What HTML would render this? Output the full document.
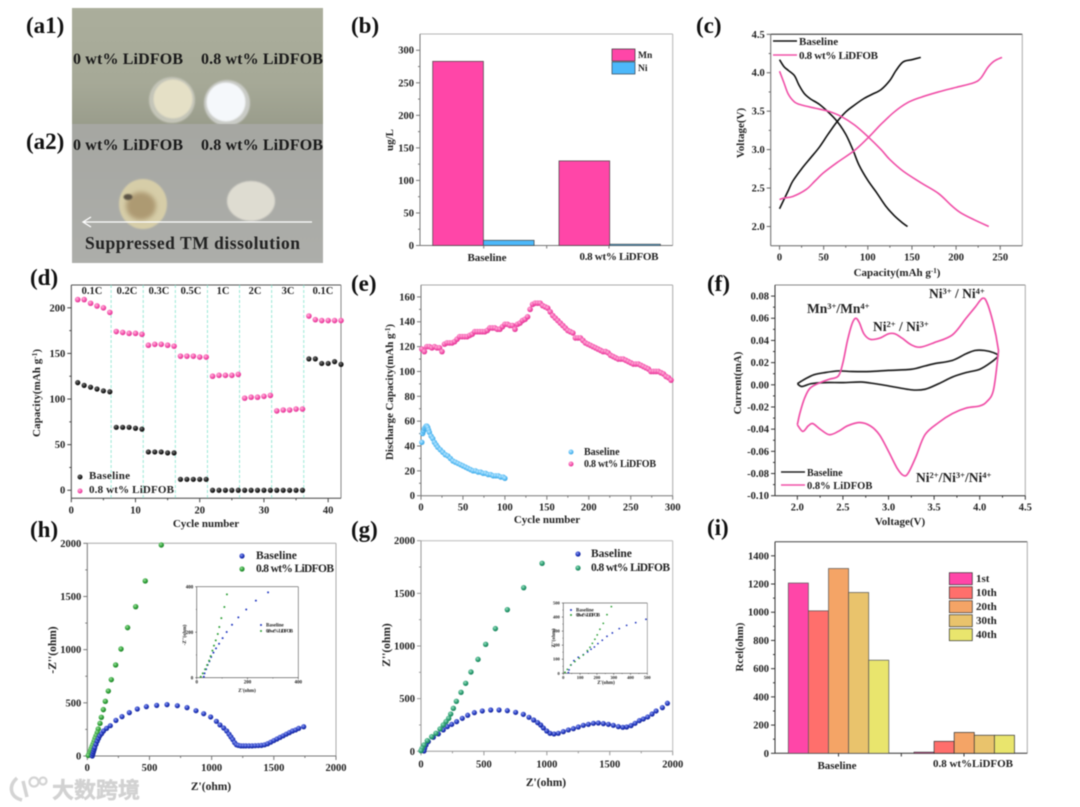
<!DOCTYPE html>
<html lang="en">
<head>
<meta charset="utf-8">
<title>LiDFOB electrolyte composite figure</title>
<style>
html,body{margin:0;padding:0;background:#fff;width:1080px;height:807px;overflow:hidden}
svg{display:block;filter:blur(0.6px)}
text{font-family:"Liberation Serif","Noto Serif CJK SC",serif;font-weight:bold;fill:#222}
.tag{font-size:23px;fill:#111}
.photo{font-size:16px;fill:#1a1a1a}
.title{font-size:11px;text-anchor:middle}
.leg{font-size:11px}
.ann{font-size:13.5px}
.sup{font-size:8.5px}
.rate{font-size:10.5px;text-anchor:middle}
.tiny{font-size:5px}
</style>
</head>
<body>
<svg id="figure" xmlns="http://www.w3.org/2000/svg" width="1080" height="807" viewBox="0 0 1080 807">
<defs>
<radialGradient id="gPink" cx="38%" cy="35%" r="70%"><stop offset="0" stop-color="#ffb6dc"/><stop offset="0.6" stop-color="#f552ac"/><stop offset="1" stop-color="#d92a8c"/></radialGradient>
<radialGradient id="gBlack" cx="38%" cy="35%" r="70%"><stop offset="0" stop-color="#777"/><stop offset="0.6" stop-color="#222"/><stop offset="1" stop-color="#000"/></radialGradient>
<radialGradient id="gBlue" cx="38%" cy="35%" r="70%"><stop offset="0" stop-color="#8d9cf0"/><stop offset="0.6" stop-color="#2238c0"/><stop offset="1" stop-color="#14228a"/></radialGradient>
<radialGradient id="gGreen" cx="38%" cy="35%" r="70%"><stop offset="0" stop-color="#9ae09a"/><stop offset="0.6" stop-color="#2fa038"/><stop offset="1" stop-color="#1b7a26"/></radialGradient>
<radialGradient id="gTeal" cx="38%" cy="35%" r="70%"><stop offset="0" stop-color="#98e0c0"/><stop offset="0.6" stop-color="#2a9c70"/><stop offset="1" stop-color="#167a55"/></radialGradient>
<radialGradient id="gSky" cx="38%" cy="35%" r="70%"><stop offset="0" stop-color="#c0e8ff"/><stop offset="0.6" stop-color="#58bdf5"/><stop offset="1" stop-color="#3aa0dd"/></radialGradient>
<linearGradient id="a1bg" x1="0" y1="0" x2="0" y2="1"><stop offset="0" stop-color="#abae9c"/><stop offset="0.65" stop-color="#a6a997"/><stop offset="1" stop-color="#9a9d8c"/></linearGradient>
<linearGradient id="a2bg" x1="0" y1="0" x2="0" y2="1"><stop offset="0" stop-color="#a6a7a2"/><stop offset="1" stop-color="#adaeaa"/></linearGradient>
<filter id="soft" x="-20%" y="-20%" width="140%" height="140%"><feGaussianBlur stdDeviation="0.7"/></filter>
<filter id="softer" x="-30%" y="-30%" width="160%" height="160%"><feGaussianBlur stdDeviation="2.5"/></filter>
</defs>
<rect width="1080" height="807" fill="#fff"/>

<g>
<rect x="72" y="8" width="251" height="116" fill="url(#a1bg)"/>
<circle cx="172" cy="100" r="23" fill="#c4c5b8" filter="url(#soft)"/>
<circle cx="173" cy="99" r="19.5" fill="#e5e0c6" filter="url(#soft)"/>
<circle cx="227" cy="103" r="23" fill="#c9cbc6" filter="url(#soft)"/>
<circle cx="226" cy="102" r="19.5" fill="#f5f8fb" filter="url(#soft)"/>
<text class="photo" x="73" y="64" textLength="110">0 wt% LiDFOB</text>
<text class="photo" x="201" y="64" textLength="122">0.8 wt% LiDFOB</text>
</g>
<g>
<rect x="72" y="124" width="251" height="139" fill="url(#a2bg)"/>
<ellipse cx="143" cy="204" rx="24" ry="25" fill="#d6cda8" filter="url(#soft)"/>
<ellipse cx="141" cy="206" rx="15" ry="14" fill="#ad9a72" filter="url(#softer)"/>
<ellipse cx="128" cy="197" rx="4.5" ry="3" fill="#5c5344" filter="url(#soft)"/>
<ellipse cx="251" cy="201" rx="24" ry="20" fill="#dedcd1" filter="url(#soft)"/>
<line x1="84" y1="222" x2="312" y2="222" stroke="#fff" stroke-width="1.3"/>
<path d="M91 217L83 222L91 227" fill="none" stroke="#fff" stroke-width="1.3"/>
<text class="photo" x="73" y="150" textLength="110">0 wt% LiDFOB</text>
<text class="photo" x="201" y="150" textLength="122">0.8 wt% LiDFOB</text>
<text x="85" y="249" style="font-size:17.5px" fill="#111" textLength="215">Suppressed TM dissolution</text>
</g>

<g>
<text class="tag" x="26" y="33">(a1)</text>
<text class="tag" x="26" y="149">(a2)</text>
<text class="tag" x="351" y="33">(b)</text>
<text class="tag" x="696" y="33">(c)</text>
<text class="tag" x="30" y="285">(d)</text>
<text class="tag" x="351" y="291">(e)</text>
<text class="tag" x="707" y="291">(f)</text>
<text class="tag" x="30" y="537">(h)</text>
<text class="tag" x="351" y="537">(g)</text>
<text class="tag" x="707" y="535">(i)</text>
</g>

<g id="plots"></g>

<g>
<text class="title" x="0" y="0" transform="translate(393 140) rotate(-90)">ug/L</text>
<rect x="612" y="49" width="23" height="12" fill="#ff46a8" stroke="#333" stroke-width=".7"/>
<rect x="612" y="62" width="23" height="12" fill="#4cb8fa" stroke="#345" stroke-width=".7"/>
<text x="638" y="58" style="font-size:9.5px">Mn</text>
<text x="638" y="71" style="font-size:9.5px">Ni</text>
<text class="title" x="487" y="261">Baseline</text>
<text class="title" x="619" y="260" textLength="79">0.8 wt% LiDFOB</text>
</g>

<g>
<text class="title" transform="translate(744 133) rotate(-90)">Voltage(V)</text>
<text class="title" x="897" y="276">Capacity(mAh g<tspan dy="-3" style="font-size:7px">-1</tspan><tspan dy="3">)</tspan></text>
<line x1="773" y1="41" x2="797" y2="41" stroke="#111" stroke-width="1.5"/>
<line x1="773" y1="55" x2="797" y2="55" stroke="#f050a8" stroke-width="1.5"/>
<text class="leg" x="799" y="45">Baseline</text>
<text class="leg" x="799" y="59" textLength="79">0.8 wt% LiDFOB</text>
</g>

<g>
<text class="title" transform="translate(40 393) rotate(-90)" textLength="88">Capacity(mAh g<tspan dy="-3" style="font-size:7px">-1</tspan><tspan dy="3">)</tspan></text>
<text class="title" x="206" y="527">Cycle number</text>
<text class="rate" x="92" y="294">0.1C</text>
<text class="rate" x="127" y="294">0.2C</text>
<text class="rate" x="159" y="294">0.3C</text>
<text class="rate" x="191" y="294">0.5C</text>
<text class="rate" x="223" y="294">1C</text>
<text class="rate" x="255" y="294">2C</text>
<text class="rate" x="288" y="294">3C</text>
<text class="rate" x="323" y="294">0.1C</text>
<circle cx="80" cy="477" r="2.5" fill="url(#gBlack)"/>
<circle cx="80" cy="491" r="2.5" fill="url(#gPink)"/>
<text class="leg" x="89" y="479" textLength="41">Baseline</text>
<text class="leg" x="89" y="493" textLength="85">0.8 wt% LiDFOB</text>
</g>

<g>
<text class="title" transform="translate(393 392) rotate(-90)" textLength="136">Discharge Capacity(mAh g<tspan dy="-3" style="font-size:7px">-1</tspan><tspan dy="3">)</tspan></text>
<text class="title" x="547" y="523">Cycle number</text>
<circle cx="571" cy="452" r="2.5" fill="url(#gSky)"/>
<circle cx="571" cy="464" r="2.5" fill="url(#gPink)"/>
<text class="leg" x="584" y="455" style="font-size:10px">Baseline</text>
<text class="leg" x="584" y="467" style="font-size:10px" textLength="72">0.8 wt% LiDFOB</text>
</g>

<g>
<text class="title" transform="translate(741 383) rotate(-90)">Current(mA)</text>
<text class="title" x="900" y="525">Voltage(V)</text>
<text class="ann" x="807" y="313">Mn<tspan class="sup" dy="-4">3+</tspan><tspan dy="4">/Mn</tspan><tspan class="sup" dy="-4">4+</tspan></text>
<text class="ann" x="873" y="331">Ni<tspan class="sup" dy="-4">2+</tspan><tspan dy="4"> / Ni</tspan><tspan class="sup" dy="-4">3+</tspan></text>
<text class="ann" x="929" y="298">Ni<tspan class="sup" dy="-4">3+</tspan><tspan dy="4"> / Ni</tspan><tspan class="sup" dy="-4">4+</tspan></text>
<text class="ann" x="916" y="482">Ni<tspan class="sup" dy="-4">2+</tspan><tspan dy="4">/Ni</tspan><tspan class="sup" dy="-4">3+</tspan><tspan dy="4">/Ni</tspan><tspan class="sup" dy="-4">4+</tspan></text>
<line x1="781" y1="472" x2="805" y2="472" stroke="#222" stroke-width="1.5"/>
<line x1="781" y1="485" x2="805" y2="485" stroke="#f050a8" stroke-width="1.5"/>
<text class="leg" x="807" y="476" style="font-size:10px">Baseline</text>
<text class="leg" x="807" y="489" style="font-size:10.5px">0.8% LiDFOB</text>
</g>

<g>
<text class="title" transform="translate(56 650) rotate(-90)" style="font-size:11.5px">-Z''(ohm)</text>
<text class="title" x="211" y="790" style="font-size:11.5px">Z'(ohm)</text>
<circle cx="242" cy="556" r="2.6" fill="url(#gBlue)"/>
<circle cx="242" cy="569" r="2.6" fill="url(#gGreen)"/>
<text class="leg" x="256" y="559" style="font-size:11.5px">Baseline</text>
<text class="leg" x="256" y="572" style="font-size:11.5px" textLength="78">0.8 wt% LiDFOB</text>
<text class="tiny title" x="247" y="692" style="font-size:5px">Z'(ohm)</text>
<text class="tiny title" transform="translate(186 635) rotate(-90)" style="font-size:5px">-Z''(ohm)</text>
<circle cx="261" cy="625" r="1" fill="#2238c0"/>
<circle cx="261" cy="631" r="1" fill="#2fa038"/>
<text class="tiny" x="266" y="626.5">Baseline</text>
<text class="tiny" x="266" y="632.5" textLength="27">0.8 wt% LiDFOB</text>
</g>

<g>
<text class="title" transform="translate(390 645) rotate(-90)" style="font-size:11.5px">Z''(ohm)</text>
<text class="title" x="546" y="786" style="font-size:11.5px">Z'(ohm)</text>
<circle cx="578" cy="554" r="2.6" fill="url(#gBlue)"/>
<circle cx="578" cy="568" r="2.6" fill="url(#gTeal)"/>
<text class="leg" x="591" y="557" style="font-size:11.5px">Baseline</text>
<text class="leg" x="591" y="571" style="font-size:11.5px" textLength="79">0.8 wt% LiDFOB</text>
<text class="tiny title" x="606" y="684" style="font-size:5px">Z'(ohm)</text>
<text class="tiny title" transform="translate(555 638) rotate(-90)" style="font-size:5px">Z''(ohm)</text>
<circle cx="571" cy="610" r="1" fill="#2238c0"/>
<circle cx="571" cy="615" r="1" fill="#2fa038"/>
<text class="tiny" x="576" y="611.5">Baseline</text>
<text class="tiny" x="576" y="616.5" textLength="24">0.8 wt% LiDFOB</text>
</g>

<g>
<text class="title" transform="translate(743 647) rotate(-90)">Rcel(ohm)</text>
<text class="title" x="837" y="769">Baseline</text>
<text class="title" x="973" y="767" textLength="80">0.8 wt%LiDFOB</text>
<rect x="949.3" y="572.7" width="23" height="12" fill="#ff46a8" stroke="#333" stroke-width=".7"/>
<rect x="949.3" y="586.7" width="23" height="12" fill="#ff6f6c" stroke="#333" stroke-width=".7"/>
<rect x="949.3" y="600.7" width="23" height="12" fill="#f4a466" stroke="#333" stroke-width=".7"/>
<rect x="949.3" y="614.7" width="23" height="12" fill="#e9c36c" stroke="#333" stroke-width=".7"/>
<rect x="949.3" y="628.7" width="23" height="12" fill="#e9e56d" stroke="#333" stroke-width=".7"/>
<text class="leg" x="976" y="582">1st</text>
<text class="leg" x="976" y="596">10th</text>
<text class="leg" x="976" y="610">20th</text>
<text class="leg" x="976" y="624">30th</text>
<text class="leg" x="976" y="638">40th</text>
</g>

<g>
<path d="M17 778C8 786 10 797 22 800M23 781L27 797" fill="none" stroke="#d4d4d4" stroke-width="3.5"/>
<circle cx="34" cy="782" r="4.5" fill="none" stroke="#d4d4d4" stroke-width="2.2"/>
<circle cx="43" cy="781" r="3.5" fill="none" stroke="#d4d4d4" stroke-width="2.2"/>
<text x="52" y="798" style="font-family:'Liberation Sans','Noto Sans CJK SC',sans-serif;font-size:22px;fill:#d2d2d2;stroke:#d2d2d2;stroke-width:.5">大数跨境</text>
</g>
</svg>

<script>
// ---------- chart b ----------
const bMn = [283, 130];
const bNi = [8, 2];
const bYTicks = [0, 50, 100, 150, 200, 250, 300];

// ---------- chart c ----------
const cXTicks = [0, 50, 100, 150, 200, 250];
const cYTicks = [2.0, 2.5, 3.0, 3.5, 4.0, 4.5];
const cBaseDischargeCap = [0, 5, 10, 17, 22, 28, 35, 45, 55, 65, 75, 83, 90, 100, 110, 120, 130, 140, 145];
const cBaseDischargeV = [4.17, 4.08, 4.03, 3.96, 3.84, 3.73, 3.66, 3.59, 3.49, 3.37, 3.2, 3.0, 2.8, 2.6, 2.44, 2.27, 2.14, 2.04, 2.0];
const cBaseChargeCap = [0, 5, 10, 15, 25, 35, 45, 55, 65, 75, 85, 95, 105, 115, 125, 132, 140, 150, 160];
const cBaseChargeV = [2.23, 2.35, 2.47, 2.59, 2.75, 2.89, 3.03, 3.2, 3.36, 3.49, 3.58, 3.66, 3.72, 3.78, 3.9, 4.03, 4.14, 4.17, 4.2];
const cLiDischargeCap = [0, 5, 10, 17, 25, 40, 55, 70, 85, 100, 115, 125, 140, 160, 180, 195, 205, 220, 237];
const cLiDischargeV = [4.02, 3.87, 3.72, 3.62, 3.58, 3.54, 3.5, 3.43, 3.32, 3.17, 3.0, 2.87, 2.72, 2.57, 2.43, 2.27, 2.18, 2.09, 2.0];
const cLiChargeCap = [0, 5, 15, 30, 40, 50, 65, 85, 100, 115, 130, 145, 160, 180, 200, 220, 228, 236, 243, 252];
const cLiChargeV = [2.35, 2.37, 2.39, 2.48, 2.59, 2.7, 2.83, 2.99, 3.15, 3.33, 3.49, 3.61, 3.68, 3.75, 3.81, 3.87, 3.93, 4.07, 4.15, 4.2];

// ---------- chart d ----------
const dXTicks = [0, 10, 20, 30, 40];
const dYTicks = [0, 50, 100, 150, 200];
const dRateBoundaries = [6.2, 11.2, 16.2, 21.2, 26.2, 31.2, 36.2];
const dCycles = [1,2,3,4,5,6,7,8,9,10,11,12,13,14,15,16,17,18,19,20,21,22,23,24,25,26,27,28,29,30,31,32,33,34,35,36,37,38,39,40,41,42];
const dBaseline = [118,115,113,111,109,108,69,69,69,68,67,42,42,42,41,41,12,12,12,12,12,0,0,0,0,0,0,0,0,0,0,0,0,0,0,0,144,144,139,139,141,138];
const dLiDFOB = [209,209,205,202,200,195,174,173,172,172,171,159,160,160,159,158,147,147,147,146,146,125,126,126,126,127,101,102,102,103,104,87,88,88,89,89,191,187,186,186,186,186];

// ---------- chart e ----------
const eXTicks = [0, 50, 100, 150, 200, 250, 300];
const eYTicks = [0, 20, 40, 60, 80, 100, 120, 140, 160];
const eBaseCycles = [1,2,3,4,5,6,7,8,9,10,12,14,16,18,20,23,26,29,32,35,38,41,44,47,50,53,56,59,62,65,68,71,74,77,80,83,86,89,92,95,98,100];
const eBaseCapacity = [43,50,52,54,55,56,56,55,53,51,48,46,43,41,39,37,35,33,32,30,28,27,26,25,24,23,22,21,20,20,19,19,18,18,17,17,16,16,16,15,15,14];
const eLiCycles = [1,4,7,10,13,16,19,22,25,28,31,34,37,40,43,46,49,52,55,58,61,64,67,70,73,76,79,82,85,88,91,94,97,100,103,106,109,112,115,118,121,124,127,130,133,136,139,142,145,148,151,154,157,160,163,166,169,172,175,178,181,184,187,190,193,196,199,202,205,208,211,214,217,220,223,226,229,232,235,238,241,244,247,250,253,256,259,262,265,268,271,274,277,280,283,286,289,292,295,298];
const eLiCapacity = [118,116,120,120,119,120,119,119,116,122,123,123,123,124,126,128,128,128,128,129,130,132,132,132,132,132,133,135,135,135,134,134,136,138,138,137,137,134,138,139,141,142,144,150,154,155,155,155,153,152,151,148,145,143,141,139,137,135,133,132,131,127,127,127,125,123,122,121,120,119,118,117,116,116,115,113,112,111,110,110,110,109,108,107,106,106,106,105,104,103,102,100,100,100,100,99,98,96,95,93];

// ---------- chart f ----------
const fXTicks = [2.0, 2.5, 3.0, 3.5, 4.0, 4.5];
const fYTicks = [-0.10, -0.08, -0.06, -0.04, -0.02, 0.00, 0.02, 0.04, 0.06, 0.08];
const fBaseVoltage = [2.0,2.08,2.18,2.3,2.45,2.6,2.8,3.0,3.25,3.4,3.5,3.7,3.85,3.95,4.05,4.15,4.2,4.12,4.0,3.85,3.7,3.55,3.4,3.25,3.0,2.85,2.7,2.5,2.3,2.15,2.05,2.0];
const fBaseCurrent = [0.001,0.005,0.009,0.011,0.0125,0.012,0.012,0.013,0.014,0.017,0.019,0.022,0.028,0.031,0.031,0.029,0.026,0.02,0.014,0.011,0.007,0.001,-0.004,-0.0045,-0.001,0.001,0.0025,0.002,0.002,0.001,-0.0015,0.001];
const fLiVoltage = [2.0,2.03,2.08,2.14,2.25,2.35,2.45,2.5,2.55,2.6,2.64,2.68,2.73,2.8,2.9,3.0,3.07,3.15,3.25,3.35,3.5,3.7,3.85,3.95,4.03,4.08,4.15,4.2,4.2,4.15,4.08,4.0,3.85,3.7,3.55,3.4,3.3,3.22,3.17,3.1,3.0,2.9,2.8,2.68,2.55,2.45,2.35,2.25,2.17,2.12,2.06,2.0];
const fLiCurrent = [-0.036,-0.025,-0.012,-0.003,0.002,0.005,0.008,0.02,0.04,0.055,0.06,0.056,0.046,0.041,0.042,0.046,0.046,0.042,0.036,0.034,0.038,0.045,0.06,0.07,0.078,0.074,0.055,0.034,0.026,-0.005,-0.015,-0.019,-0.021,-0.026,-0.034,-0.045,-0.065,-0.079,-0.082,-0.076,-0.06,-0.045,-0.037,-0.034,-0.037,-0.042,-0.045,-0.04,-0.035,-0.037,-0.042,-0.036];

// ---------- chart h ----------
const hTicks = [0, 500, 1000, 1500, 2000];
const hBaseRe = [40,45,50,55,60,70,80,90,100,115,130,155,185,230,279,338,402,475,558,641,724,802,874,936,992,1038,1067,1097,1121,1140,1155,1170,1185,1200,1215,1235,1255,1275,1300,1325,1350,1375,1400,1425,1450,1475,1500,1525,1550,1575,1600,1625,1650,1675,1700,1740];
const hBaseIm = [0,20,40,60,80,110,140,165,190,210,235,260,285,335,370,408,442,464,476,483,473,455,426,398,367,326,292,263,235,205,180,155,125,105,100,95,95,95,95,95,97,98,100,105,115,130,145,160,175,190,205,220,235,245,260,275];
const hLiRe = [595,466,389,324,271,228,193,169,145,129,113,102,88,80,70,62,55,47,40,33,27,20,14,8];
const hLiIm = [1984,1646,1404,1207,1006,856,718,611,514,436,364,307,254,220,190,165,140,115,95,75,55,35,20,5];
const hInsetTicks = [0, 200, 400];
const hInsetBaseRe = [281,233,195,164,139,118,102,88,76,66,57,50,43,37,31,28];
const hInsetBaseIm = [375,339,300,265,233,201,174,149,129,110,91,72,56,37,19,4];
const hInsetLiRe = [119,109,97,89,83,75,68,62,55,49,41,33,24,16];
const hInsetLiIm = [366,311,262,223,192,164,141,119,95,75,56,37,19,4];

// ---------- chart g ----------
const gTicks = [0, 500, 1000, 1500, 2000];
const gBaseRe = [1958,1918,1868,1836,1801,1767,1735,1701,1669,1634,1603,1568,1528,1489,1449,1409,1370,1330,1290,1250,1211,1171,1131,1091,1057,1025,999,972,951,927,895,858,813,752,686,620,554,487,424,371,328,283,244,209,177,138,98,58,40,29,24];
const gBaseIm = [456,415,383,354,326,307,291,266,244,231,228,234,247,256,263,269,266,256,247,231,215,203,187,171,165,171,193,222,250,272,297,323,351,370,386,392,392,383,367,342,313,282,256,234,203,165,133,92,60,28,3];
const gLiRe = [962,816,686,591,514,453,397,355,318,281,257,236,220,199,177,151,119,85,50,24,8,0];
const gLiIm = [1785,1554,1345,1165,1016,873,753,646,560,475,408,354,313,282,250,212,171,139,101,60,28,6];
const gInsetTicks = [0, 100, 200, 300, 400, 500];
const gInsetBaseRe = [492,431,377,333,292,260,232,206,185,165,145,119,89,63,46,34,30];
const gInsetBaseIm = [384,360,341,318,287,263,235,211,187,171,152,133,114,90,59,24,5];
const gInsetLiRe = [286,260,238,218,202,188,173,159,143,119,95,69,44,24,10];
const gInsetLiIm = [474,417,355,313,273,242,213,185,161,130,107,83,59,28,7];

// ---------- chart i ----------
const iYTicks = [0, 200, 400, 600, 800, 1000, 1200, 1400];
const iBaseline = [1207, 1010, 1310, 1140, 660];
const iLiDFOB = [8, 85, 148, 128, 128];
const iCycleNames = ['1st', '10th', '20th', '30th', '40th'];
const iColors = ['#ff46a8', '#ff6f6c', '#f4a466', '#e9c36c', '#e9e56d'];

const NS = 'http://www.w3.org/2000/svg';
const plots = document.getElementById('plots');

function add(parent, tag, name, attrs) {
  const node = document.createElementNS(NS, tag);
  
  
  for (const k in attrs) node.setAttribute(k, attrs[k]);
  parent.appendChild(node);
  return node;
}

function axes(c) {
  const g = add(plots, 'g', c.id + '-chart', {});
  const fs = c.fs || 10.5;
  const tl = c.tl || 4;
  const off = c.off || 15;
  const sx = v => c.l + (v - c.x0) / (c.x1 - c.x0) * (c.r - c.l);
  const sy = v => c.b - (v - c.y0) / (c.y1 - c.y0) * (c.b - c.t);
  const sw = c.sw || 1;
  if (c.bg) add(g, 'rect', c.id + '-background', {x: c.l, y: c.t, width: c.r - c.l, height: c.b - c.t, fill: '#fff'});
  add(g, 'line', c.id + '-top-border', {x1: c.l, y1: c.t, x2: c.r, y2: c.t, stroke: c.topC, 'stroke-width': sw});
  add(g, 'line', c.id + '-right-border', {x1: c.r, y1: c.t, x2: c.r, y2: c.b, stroke: c.rightC, 'stroke-width': sw});
  add(g, 'line', c.id + '-y-axis', {x1: c.l, y1: c.t, x2: c.l, y2: c.b, stroke: c.axisC, 'stroke-width': sw});
  add(g, 'line', c.id + '-x-axis', {x1: c.l, y1: c.b, x2: c.r, y2: c.b, stroke: c.axisC, 'stroke-width': sw});
  const fmtY = v => c.yDigits ? v.toFixed(c.yDigits) : String(v);
  const fmtX = v => c.xDigits ? v.toFixed(c.xDigits) : String(v);
  (c.yTicks || []).forEach((v, i, arr) => {
    add(g, 'line', c.id + '-y-tick', {x1: c.l - tl, x2: c.l, y1: sy(v), y2: sy(v), stroke: c.axisC, 'stroke-width': sw});
    const label = add(g, 'text', c.id + '-y-tick-label', {x: c.l - tl - 2, y: sy(v) + fs * 0.33, 'text-anchor': 'end', style: 'font-size:' + fs + 'px'});
    label.textContent = fmtY(v);
    if (i < arr.length - 1) {
      const m = (v + arr[i + 1]) / 2;
      add(g, 'line', c.id + '-y-minor-tick', {x1: c.l - tl / 2, x2: c.l, y1: sy(m), y2: sy(m), stroke: c.axisC, 'stroke-width': sw});
    }
  });
  (c.xTicks || []).forEach((v, i, arr) => {
    add(g, 'line', c.id + '-x-tick', {x1: sx(v), x2: sx(v), y1: c.b, y2: c.b + tl, stroke: c.axisC, 'stroke-width': sw});
    const label = add(g, 'text', c.id + '-x-tick-label', {x: sx(v), y: c.b + off, 'text-anchor': 'middle', style: 'font-size:' + fs + 'px'});
    label.textContent = fmtX(v);
    if (i < arr.length - 1) {
      const m = (v + arr[i + 1]) / 2;
      add(g, 'line', c.id + '-x-minor-tick', {x1: sx(m), x2: sx(m), y1: c.b, y2: c.b + tl / 2, stroke: c.axisC, 'stroke-width': sw});
    }
  });
  return {g, sx, sy};
}

function smoothPath(xs, ys, sx, sy) {
  const p = xs.map((x, i) => [sx(x), sy(ys[i])]);
  let d = 'M' + p[0][0].toFixed(2) + ' ' + p[0][1].toFixed(2);
  for (let i = 0; i < p.length - 1; i++) {
    const a = p[Math.max(0, i - 1)], b = p[i], e = p[i + 1], f = p[Math.min(p.length - 1, i + 2)];
    const c1x = b[0] + (e[0] - a[0]) / 6, c1y = b[1] + (e[1] - a[1]) / 6;
    const c2x = e[0] - (f[0] - b[0]) / 6, c2y = e[1] - (f[1] - b[1]) / 6;
    d += 'C' + c1x.toFixed(2) + ' ' + c1y.toFixed(2) + ' ' + c2x.toFixed(2) + ' ' + c2y.toFixed(2) + ' ' + e[0].toFixed(2) + ' ' + e[1].toFixed(2);
  }
  return d;
}

function curve(ax, xs, ys, name, color, width) {
  add(ax.g, 'path', name, {d: smoothPath(xs, ys, ax.sx, ax.sy), fill: 'none', stroke: color, 'stroke-width': width || 1.6, 'stroke-linejoin': 'round'});
}

function dots(ax, xs, ys, name, fill, r) {
  xs.forEach((x, i) => {
    add(ax.g, 'circle', name, {cx: ax.sx(x), cy: ax.sy(ys[i]), r: r, fill: fill});
  });
}

function bars(ax, values, start, width, colors, stroke, name) {
  values.forEach((v, i) => {
    const top = ax.sy(v);
    add(ax.g, 'rect', name + '-' + i, {x: start + i * width, y: top, width: width, height: ax.sy(0) - top, fill: colors[i], stroke: stroke, 'stroke-width': 0.7});
  });
}

// b
const axB = axes({id: 'b', l: 420, r: 672.7, t: 34, b: 245.5, x0: 0, x1: 1, y0: 0, y1: 325, yTicks: bYTicks, topC: '#b5b5b5', rightC: '#b5b5b5', axisC: '#777'});
bars(axB, [bMn[0], bNi[0]], 432.7, 50.7, ['#ff46a8', '#4cb8fa'], '#444', 'bar-baseline');
bars(axB, [bMn[1], bNi[1]], 559, 50.7, ['#ff46a8', '#4cb8fa'], '#444', 'bar-lidfob');
[483.7, 546.7, 609].forEach(px => {
  add(axB.g, 'line', 'b-x-tick', {x1: px, x2: px, y1: 245.5, y2: 248.5, stroke: '#777'});
});

// c
const axC = axes({id: 'c', l: 770.7, r: 1022.3, t: 34.3, b: 245.7, x0: -10, x1: 275, y0: 1.75, y1: 4.5, yTicks: cYTicks, yDigits: 1, xTicks: cXTicks, topC: '#222', rightC: '#aaa', axisC: '#666'});
curve(axC, cBaseDischargeCap, cBaseDischargeV, 'c-baseline-discharge-curve', '#111');
curve(axC, cBaseChargeCap, cBaseChargeV, 'c-baseline-charge-curve', '#111');
curve(axC, cLiDischargeCap, cLiDischargeV, 'c-lidfob-discharge-curve', '#f050a8');
curve(axC, cLiChargeCap, cLiChargeV, 'c-lidfob-charge-curve', '#f050a8');

// d
const axD = axes({id: 'd', l: 71.3, r: 341, t: 285, b: 498.3, x0: 0, x1: 42, y0: -8.8, y1: 225, yTicks: dYTicks, xTicks: dXTicks, topC: '#555', rightC: '#888', axisC: '#444'});
dRateBoundaries.forEach(v => {
  add(axD.g, 'line', 'd-rate-boundary', {x1: axD.sx(v), x2: axD.sx(v), y1: 285, y2: 498.3, stroke: '#8fe6d2', 'stroke-width': 0.9, 'stroke-dasharray': '3 2'});
});
dots(axD, dCycles, dBaseline, 'd-baseline-point', 'url(#gBlack)', 2.6);
dots(axD, dCycles, dLiDFOB, 'd-lidfob-point', 'url(#gPink)', 2.8);

// e
const axE = axes({id: 'e', l: 421, r: 672.7, t: 285, b: 495.7, x0: 0, x1: 300, y0: 0, y1: 169.6, yTicks: eYTicks, xTicks: eXTicks, topC: '#aaa', rightC: '#aaa', axisC: '#777'});
dots(axE, eBaseCycles, eBaseCapacity, 'e-baseline-point', 'url(#gSky)', 2.7);
dots(axE, eLiCycles, eLiCapacity, 'e-lidfob-point', 'url(#gPink)', 2.8);

// f
const axF = axes({id: 'f', l: 775, r: 1025.3, t: 285, b: 495.7, x0: 1.755, x1: 4.5, y0: -0.1, y1: 0.09, yTicks: fYTicks, yDigits: 2, xTicks: fXTicks, xDigits: 1, topC: '#888', rightC: '#aaa', axisC: '#333'});
curve(axF, fBaseVoltage, fBaseCurrent, 'f-baseline-cv-curve', '#222', 1.7);
curve(axF, fLiVoltage, fLiCurrent, 'f-lidfob-cv-curve', '#f050a8', 1.7);

// h
const axH = axes({id: 'h', l: 87.3, r: 336, t: 543.3, b: 756, x0: 0, x1: 2000, y0: 0, y1: 2000, yTicks: hTicks, xTicks: hTicks, topC: '#aaa', rightC: '#aaa', axisC: '#777'});
dots(axH, hLiRe, hLiIm, 'h-lidfob-point', 'url(#gGreen)', 2.7);
dots(axH, hBaseRe, hBaseIm, 'h-baseline-point', 'url(#gBlue)', 2.6);
const axHI = axes({id: 'h-inset', l: 196.7, r: 298.3, t: 586.7, b: 677.7, x0: 0, x1: 400, y0: 0, y1: 400, yTicks: hInsetTicks, xTicks: hInsetTicks, fs: 5, tl: 1.5, off: 6, sw: 0.6, bg: true, topC: '#555', rightC: '#555', axisC: '#444'});
dots(axHI, hInsetBaseRe, hInsetBaseIm, 'h-inset-baseline-point', '#2238c0', 1);
dots(axHI, hInsetLiRe, hInsetLiIm, 'h-inset-lidfob-point', '#2fa038', 1);

// g
const axG = axes({id: 'g', l: 421, r: 672.7, t: 540.7, b: 751.3, x0: 0, x1: 2000, y0: 0, y1: 2000, yTicks: gTicks, xTicks: gTicks, off: 16, topC: '#bbb', rightC: '#bbb', axisC: '#999'});
dots(axG, gBaseRe, gBaseIm, 'g-baseline-point', 'url(#gBlue)', 2.6);
dots(axG, gLiRe, gLiIm, 'g-lidfob-point', 'url(#gTeal)', 2.7);
const axGI = axes({id: 'g-inset', l: 563.3, r: 647.3, t: 603, b: 673.3, x0: 0, x1: 500, y0: 0, y1: 500, yTicks: gInsetTicks, xTicks: gInsetTicks, fs: 4.5, tl: 1.5, off: 5.5, sw: 0.6, bg: true, topC: '#222', rightC: '#777', axisC: '#444'});
dots(axGI, gInsetBaseRe, gInsetBaseIm, 'g-inset-baseline-point', '#2238c0', 0.9);
dots(axGI, gInsetLiRe, gInsetLiIm, 'g-inset-lidfob-point', '#2fa038', 0.9);

// i
const axI = axes({id: 'i', l: 775, r: 1027.3, t: 541.7, b: 753.3, x0: 0, x1: 1, y0: 0, y1: 1500, yTicks: iYTicks, topC: '#444', rightC: '#aaa', axisC: '#333'});
bars(axI, iBaseline, 788.3, 20.1, iColors, '#555', 'bar-baseline-cycle');
bars(axI, iLiDFOB, 914, 20.1, iColors, '#333', 'bar-lidfob-cycle');
[838.5, 901.3, 964].forEach(px => {
  add(axI.g, 'line', 'i-x-tick', {x1: px, x2: px, y1: 753.3, y2: 756.5, stroke: '#333'});
});
</script>
</body>
</html>
